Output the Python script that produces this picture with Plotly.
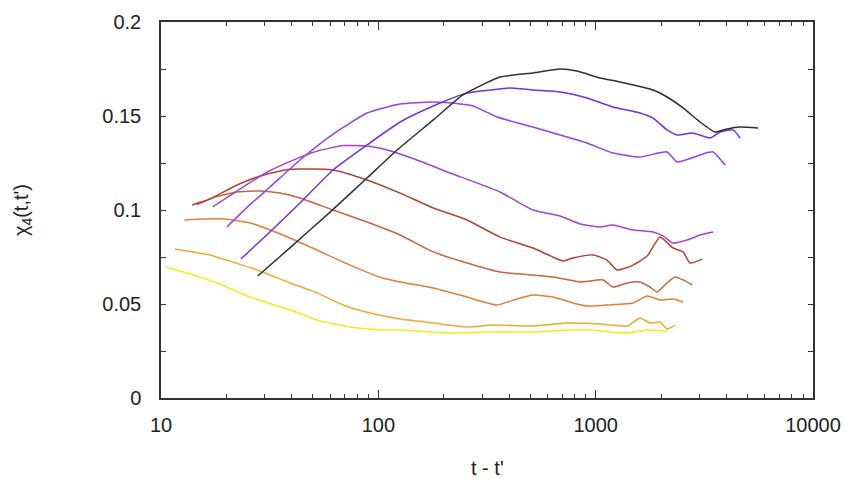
import plotly.graph_objects as go

# ---- data ----
t_yellow = [10.5, 13.6, 18.1, 25.7, 39.3, 52.2, 74.1, 102, 126, 214, 303, 515, 738, 973, 1164, 1397, 1725, 2131]
chi_yellow = [0.0697, 0.0660, 0.0612, 0.0537, 0.0468, 0.0415, 0.0378, 0.0362, 0.0362, 0.0346, 0.0351, 0.0351, 0.0362, 0.0362, 0.0351, 0.0346, 0.0362, 0.0356]

t_gold = [11.6, 16.8, 21.4, 27.7, 39.3, 52.2, 68.8, 91.6, 126, 179, 256, 337, 515, 738, 1047, 1397, 1600, 1778, 1978, 2131, 2317]
chi_gold = [0.0793, 0.0761, 0.0723, 0.0681, 0.0612, 0.0559, 0.0495, 0.0452, 0.0420, 0.0399, 0.0378, 0.0388, 0.0383, 0.0399, 0.0394, 0.0383, 0.0426, 0.0399, 0.0404, 0.0367, 0.0388]

t_orange = [12.8, 15.9, 19.7, 25.7, 36.4, 52.2, 74.1, 105, 126, 179, 256, 352, 435, 515, 637, 787, 912, 1128, 1486, 1725, 1978, 2268, 2524]
chi_orange = [0.0947, 0.0952, 0.0952, 0.0931, 0.0867, 0.0787, 0.0707, 0.0638, 0.0617, 0.0585, 0.0537, 0.0495, 0.0527, 0.0548, 0.0537, 0.0505, 0.0489, 0.0495, 0.0505, 0.0543, 0.0521, 0.0527, 0.0511]

t_orangered = [14.6, 17.7, 22.4, 28.6, 35.3, 43.6, 61.9, 88.7, 126, 179, 256, 363, 515, 637, 848, 1081, 1202, 1397, 1600, 1778, 1917, 2131, 2317, 2524, 2780]
chi_orangered = [0.1027, 0.1069, 0.1096, 0.1101, 0.1090, 0.1064, 0.1000, 0.0936, 0.0867, 0.0777, 0.0718, 0.0670, 0.0654, 0.0644, 0.0617, 0.0628, 0.0590, 0.0612, 0.0617, 0.0590, 0.0564, 0.0612, 0.0644, 0.0628, 0.0601]

t_darkred = [13.9, 16.8, 22.4, 28.6, 37.2, 43.6, 61.9, 88.7, 126, 179, 256, 363, 515, 708, 787, 973, 1128, 1253, 1486, 1725, 1978, 2268, 2524, 2718, 3090]
chi_darkred = [0.1027, 0.1059, 0.1133, 0.1181, 0.1213, 0.1218, 0.1213, 0.1160, 0.1090, 0.1011, 0.0947, 0.0856, 0.0798, 0.0729, 0.0745, 0.0761, 0.0734, 0.0681, 0.0707, 0.0755, 0.0856, 0.0798, 0.0777, 0.0718, 0.0739]

t_magenta = [17.3, 21.0, 25.6, 31.2, 43.6, 53.0, 68.8, 88.7, 109.6, 150.7, 213.8, 363, 515, 686, 848, 1047, 1202, 1486, 1837, 2041, 2268, 2634, 3022, 3467]
chi_magenta = [0.1016, 0.1080, 0.1145, 0.1205, 0.1280, 0.1315, 0.1343, 0.1340, 0.1319, 0.1266, 0.1197, 0.1096, 0.1000, 0.0968, 0.0926, 0.0910, 0.0920, 0.0894, 0.0883, 0.0862, 0.0824, 0.0840, 0.0867, 0.0883]

t_violet = [20.1, 25.6, 31.7, 43.6, 61.9, 88.7, 126, 179, 238, 273, 352, 515, 738, 912, 1202, 1600, 2131, 2371, 3022, 3467, 3944]
chi_violet = [0.0910, 0.1027, 0.1122, 0.1266, 0.1404, 0.1516, 0.1564, 0.1574, 0.1564, 0.1553, 0.1495, 0.1441, 0.1388, 0.1356, 0.1303, 0.1282, 0.1309, 0.1255, 0.1293, 0.1309, 0.1239]

t_blueviolet = [23.3, 31.7, 43.6, 61.9, 88.7, 126, 179, 256, 363, 404, 515, 686, 912, 1202, 1600, 1837, 2131, 2371, 2806, 3357, 3739, 4288, 4620]
chi_blueviolet = [0.0739, 0.0883, 0.1037, 0.1213, 0.1346, 0.1468, 0.1553, 0.1622, 0.1644, 0.1649, 0.1638, 0.1628, 0.1596, 0.1548, 0.1516, 0.1489, 0.1426, 0.1399, 0.1410, 0.1383, 0.1415, 0.1426, 0.1383]

t_black = [27.9, 39.3, 60.0, 88.7, 122, 179, 245, 363, 515, 686, 821, 1047, 1295, 1837, 2131, 2524, 3022, 3542, 4024, 4620, 5585]
chi_black = [0.0649, 0.0800, 0.0989, 0.1170, 0.1319, 0.1479, 0.1612, 0.1707, 0.1729, 0.1750, 0.1739, 0.1702, 0.1681, 0.1638, 0.1601, 0.1543, 0.1468, 0.1415, 0.1431, 0.1441, 0.1436]

x_ticks = [10, 100, 1000, 10000]
x_ticktext = ["10", "100", "1000", "10000"]
y_ticks = [0, 0.05, 0.1, 0.15, 0.2]
y_ticktext = ["0", "0.05", "0.1", "0.15", "0.2"]

series = [
    (t_yellow, chi_yellow, "#f2ec1c"),
    (t_gold, chi_gold, "#f0a830"),
    (t_orange, chi_orange, "#e0803c"),
    (t_orangered, chi_orangered, "#c8643c"),
    (t_darkred, chi_darkred, "#b04434"),
    (t_magenta, chi_magenta, "#a444cc"),
    (t_violet, chi_violet, "#9440ec"),
    (t_blueviolet, chi_blueviolet, "#7034dc"),
    (t_black, chi_black, "#303030"),
]

fig = go.Figure()
for t, c, col in series:
    fig.add_trace(go.Scatter(x=t, y=c, mode="lines",
                             line=dict(color=col, width=1.5, shape="spline", smoothing=0.5),
                             showlegend=False, hoverinfo="skip"))

font_family = "Liberation Sans, Arial, sans-serif"
fig.update_layout(
    width=860, height=487,
    margin=dict(l=161, r=47, t=22, b=89),
    paper_bgcolor="white", plot_bgcolor="white",
    font=dict(family=font_family, size=20, color="#222"),
    annotations=[
        dict(text="χ<sub>4</sub>(t,t')", xref="paper", yref="paper",
             x=-0.213, y=0.5, textangle=-90, showarrow=False,
             xanchor="center", yanchor="middle", font=dict(size=20)),
        dict(text="t - t'", xref="paper", yref="paper",
             x=0.5, y=-0.186, showarrow=False,
             xanchor="center", yanchor="middle", font=dict(size=20)),
    ],
)
fig.update_xaxes(
    type="log", range=[1, 4],
    tickvals=x_ticks, ticktext=x_ticktext,
    ticks="inside", ticklen=8, tickwidth=1, tickcolor="#333",
    ticklabelstandoff=8,
    minor=dict(ticks="inside", ticklen=4, tickwidth=1, tickcolor="#333", dtick="D1", showgrid=False),
    showline=True, linecolor="#333", linewidth=1.5, mirror="ticks",
    showgrid=False, zeroline=False,
)
fig.update_yaxes(
    range=[0, 0.2],
    tickvals=y_ticks, ticktext=y_ticktext,
    ticks="inside", ticklen=5, tickwidth=1, tickcolor="#333",
    ticklabelstandoff=14,
    minor=dict(ticks="inside", ticklen=5, tickwidth=1, tickcolor="#333", dtick=0.025, showgrid=False),
    showline=True, linecolor="#333", linewidth=1.5, mirror="ticks",
    showgrid=False, zeroline=False,
)

fig.write_html("out.html")
